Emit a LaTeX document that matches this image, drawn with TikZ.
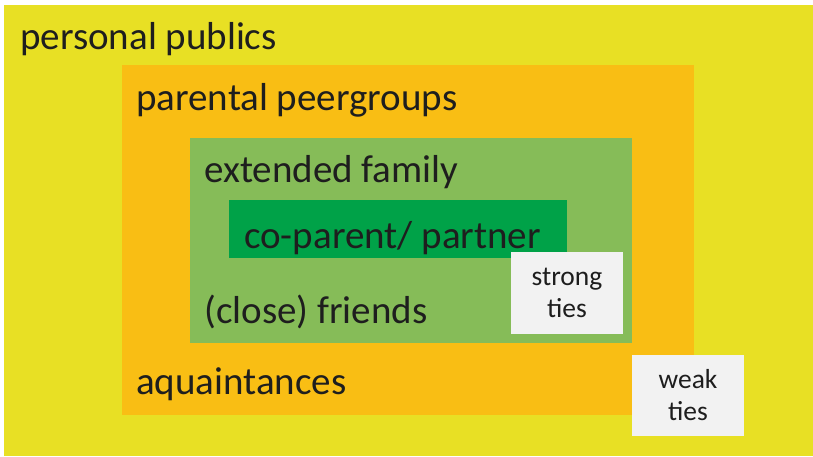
\documentclass[tikz,border=0pt]{standalone}
\usepackage{fontspec}
\setmainfont{Carlito}
\definecolor{pyellow}{RGB}{232,224,36}
\definecolor{porange}{RGB}{249,190,20}
\definecolor{pgreen}{RGB}{134,188,88}
\definecolor{pdgreen}{RGB}{0,162,72}
\definecolor{pbox}{RGB}{242,242,242}
\definecolor{ptext}{RGB}{30,30,30}
\begin{document}
\begin{tikzpicture}[x=1pt,y=-1pt,
  region/.style={draw=none,inner sep=0pt,outer sep=0pt,anchor=north west},
  lbl/.style={inner sep=0pt,anchor=base west,text=ptext,font=\fontsize{39}{45}\selectfont},
  tiebox/.style={region,fill=pbox,text=ptext,align=center,font=\fontsize{27.5}{32}\selectfont}]
\useasboundingbox (0,0) rectangle (813,456);
\fill[white] (0,0) rectangle (813,456);
\node[region,fill=pyellow,minimum width=809pt,minimum height=451pt] (yellow) at (4,5) {};
\node[region,fill=porange,minimum width=572pt,minimum height=350pt] (orange) at (122,65) {};
\node[region,fill=pgreen,minimum width=442pt,minimum height=205pt] (green) at (190,138) {};
\node[region,fill=pdgreen,minimum width=338pt,minimum height=58pt] (dgreen) at (229,200) {};
\node[tiebox,minimum width=112pt,minimum height=82pt] (strong) at (511,252) {strong\\ties};
\node[tiebox,minimum width=112pt,minimum height=81pt] (weak) at (632,355) {weak\\ties};
\node[lbl] (lpp) at (20,49) {personal publics};
\node[lbl] (lpg) at (136,110) {parental peergroups};
\node[lbl] (lef) at (204,182) {extended family};
\node[lbl] (lcp) at (244,248) {co-parent/ partner};
\node[lbl] (lcf) at (204,323) {(close) friends};
\node[lbl] (laq) at (136,394) {aquaintances};
\end{tikzpicture}
\end{document}
